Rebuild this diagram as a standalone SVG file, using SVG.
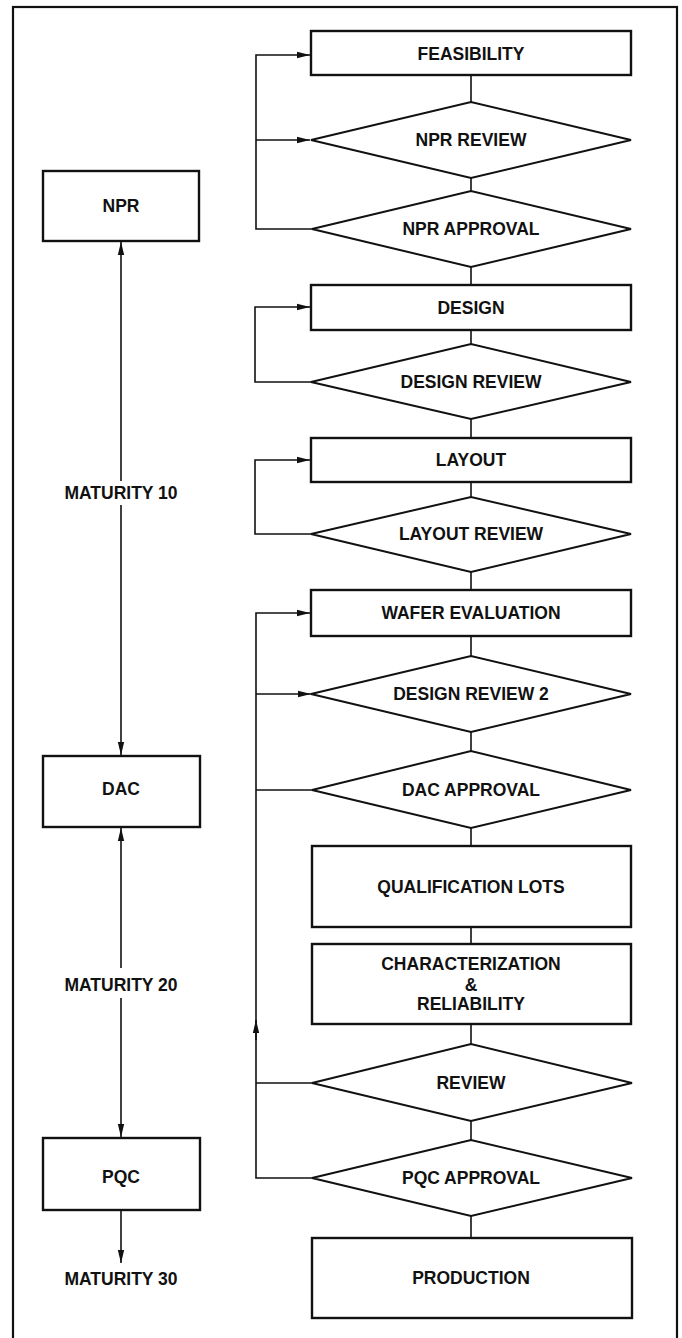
<svg xmlns="http://www.w3.org/2000/svg" width="682" height="1338" viewBox="0 0 682 1338">
<style>
.box{fill:#fff;stroke:#111;stroke-width:2.4}
.dia{fill:#fff;stroke:#111;stroke-width:2}
.ln{fill:none;stroke:#111;stroke-width:1.6}
.t{font-family:"Liberation Sans",Arial,Helvetica,sans-serif;font-weight:bold;font-size:17.5px;fill:#111;text-anchor:middle}
</style>
<defs>
<marker id="ah" markerUnits="userSpaceOnUse" markerWidth="14" markerHeight="8" refX="13" refY="4" orient="auto">
<path d="M0,0.8 L13,4 L0,7.2 Z" fill="#111"/>
</marker>
</defs>
<rect x="13" y="7" width="664" height="1345" fill="none" stroke="#111" stroke-width="2.2"/>
<g id="connectors">
<path class="ln" d="M471,75 V102 M471,178 V191 M471,267 V285 M471,330 V344 M471,419 V438 M471,482 V497 M471,572 V590 M471,636 V656 M471,732 V751 M471,828 V846 M471,927 V944 M471,1024 V1044 M471,1121 V1140 M471,1216 V1238"/>
<path class="ln" d="M312,229 H256 V55 H310" marker-end="url(#ah)"/>
<path class="ln" d="M256,140 H310" marker-end="url(#ah)"/>
<path class="ln" d="M311,382 H255 V307 H310" marker-end="url(#ah)"/>
<path class="ln" d="M311,534 H255 V460 H310" marker-end="url(#ah)"/>
<path class="ln" d="M312,1178 H256 V613 H310" marker-end="url(#ah)"/>
<path class="ln" d="M256,694 H311" marker-end="url(#ah)"/>
<path class="ln" d="M312,790 H256 M312,1083 H256"/>
<path class="ln" d="M256,1040 V1020" marker-end="url(#ah)"/>
<path class="ln" d="M121,481 V242" marker-end="url(#ah)"/>
<path class="ln" d="M121,505 V755" marker-end="url(#ah)"/>
<path class="ln" d="M121,968 V828" marker-end="url(#ah)"/>
<path class="ln" d="M121,998 V1137" marker-end="url(#ah)"/>
<path class="ln" d="M121,1211 V1263" marker-end="url(#ah)"/>
</g>
<g id="feasibility"><rect class="box" x="311" y="31" width="320" height="44"/><text class="t" x="471" y="59.5">FEASIBILITY</text></g>
<g id="npr-review"><polygon class="dia" points="311,140 471,102 631,140 471,178"/><text class="t" x="471" y="146.3">NPR REVIEW</text></g>
<g id="npr-approval"><polygon class="dia" points="312,229 471,191 631,229 471,267"/><text class="t" x="471" y="235.3">NPR APPROVAL</text></g>
<g id="design"><rect class="box" x="311" y="285" width="320" height="45"/><text class="t" x="471" y="313.8">DESIGN</text></g>
<g id="design-review"><polygon class="dia" points="311,382 471,344 631,382 471,419"/><text class="t" x="471" y="388.3">DESIGN REVIEW</text></g>
<g id="layout"><rect class="box" x="311" y="438" width="320" height="44"/><text class="t" x="471" y="466.3">LAYOUT</text></g>
<g id="layout-review"><polygon class="dia" points="311,534 471,497 631,534 471,572"/><text class="t" x="471" y="540.3">LAYOUT REVIEW</text></g>
<g id="wafer-evaluation"><rect class="box" x="311" y="590" width="320" height="46"/><text class="t" x="471" y="619.3">WAFER EVALUATION</text></g>
<g id="design-review-2"><polygon class="dia" points="311,694 471,656 631,694 471,732"/><text class="t" x="471" y="700.3">DESIGN REVIEW 2</text></g>
<g id="dac-approval"><polygon class="dia" points="312,790 471,751 631,790 471,828"/><text class="t" x="471" y="796.3">DAC APPROVAL</text></g>
<g id="qualification-lots"><rect class="box" x="312" y="846" width="319" height="81"/><text class="t" x="471" y="893.3">QUALIFICATION LOTS</text></g>
<g id="characterization"><rect class="box" x="312" y="944" width="319" height="80"/><text class="t" x="471" y="970.3">CHARACTERIZATION</text><text class="t" x="471" y="991.3">&amp;</text><text class="t" x="471" y="1010.3">RELIABILITY</text></g>
<g id="review"><polygon class="dia" points="312,1083 471,1044 632,1083 471,1121"/><text class="t" x="471" y="1089.3">REVIEW</text></g>
<g id="pqc-approval"><polygon class="dia" points="312,1178 471,1140 632,1178 471,1216"/><text class="t" x="471" y="1184.3">PQC APPROVAL</text></g>
<g id="production"><rect class="box" x="312" y="1238" width="320" height="80"/><text class="t" x="471" y="1284.3">PRODUCTION</text></g>
<g id="npr"><rect class="box" x="43" y="171" width="156" height="70"/><text class="t" x="121" y="212.3">NPR</text></g>
<g id="maturity-10"><text class="t" x="121" y="499.3">MATURITY 10</text></g>
<g id="dac"><rect class="box" x="43" y="756" width="157" height="71"/><text class="t" x="121" y="795.3">DAC</text></g>
<g id="maturity-20"><text class="t" x="121" y="991.3">MATURITY 20</text></g>
<g id="pqc"><rect class="box" x="43" y="1138" width="157" height="72"/><text class="t" x="121" y="1183.3">PQC</text></g>
<g id="maturity-30"><text class="t" x="121" y="1285.3">MATURITY 30</text></g>
</svg>
